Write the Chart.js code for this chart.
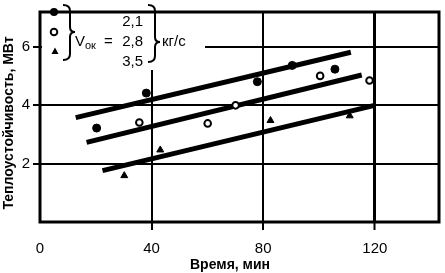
<!DOCTYPE html>
<html>
<head>
<meta charset="utf-8">
<script src="https://cdn.jsdelivr.net/npm/chart.js@4/dist/chart.umd.min.js"></script>
<style>
  html, body { margin: 0; padding: 0; background: #fff; }
</style>
</head>
<body>
<canvas id="chart" width="445" height="273"></canvas>
<script>
// Flow rates shown in the legend, kg/s
var flowRates = ['2,1', '2,8', '3,5'];

// Measured points: time (min) and heat resistance (MW)
var timeA = [20.3, 38.1, 77.9, 90.4, 105.7];
var valA  = [3.22, 4.42, 4.81, 5.37, 5.24];
var timeB = [35.6, 60.1, 70.1, 100.4, 118.1];
var valB  = [3.41, 3.38, 4.00, 5.01, 4.85];
var timeC = [30.2, 43.1, 82.6, 111.0];
var valC  = [1.59, 2.47, 3.48, 3.64];

// Trend lines, start and end
var trendTimeA = [12.8, 111.4];
var trendValA  = [3.58, 5.82];
var trendTimeB = [16.7, 115.3];
var trendValB  = [2.73, 5.04];
var trendTimeC = [22.4, 119.9];
var trendValC  = [1.76, 4.00];

// Axis ticks and titles
var xTicks = [0, 40, 80, 120];
var yTicks = [2, 4, 6];
var xTitle = 'Время, мин';
var yTitle = 'Теплоустойчивость, МВт';

function pts(xs, ys) {
    return xs.map(function (x, i) { return { x: x, y: ys[i] }; });
}

function trend(xs, ys) {
    return {
        type: 'line',
        data: pts(xs, ys),
        borderColor: '#000',
        borderWidth: 5,
        pointRadius: 0,
        showLine: true,
        fill: false
    };
}

var FONT = 'Liberation Sans, Arial, sans-serif';

// white box for the legend, frame round the plot, legend and axis titles
var legendPlugin = {
    id: 'legendBox',
    beforeDatasetsDraw: function (chart) {
        var ctx = chart.ctx;
        ctx.save();
        ctx.fillStyle = '#fff';
        ctx.fillRect(42, 3, 163, 67);
        ctx.restore();
    },
    afterDatasetsDraw: function (chart) {
        var ctx = chart.ctx;
        var a = chart.chartArea;
        ctx.save();
        ctx.strokeStyle = '#000';
        ctx.fillStyle = '#000';
        ctx.lineWidth = 3;
        ctx.strokeRect(a.left, a.top, a.right - a.left, a.bottom - a.top);

        // markers
        ctx.beginPath();
        ctx.arc(54, 12, 4, 0, Math.PI * 2);
        ctx.fill();
        ctx.lineWidth = 2;
        ctx.beginPath();
        ctx.arc(54, 32, 3.3, 0, Math.PI * 2);
        ctx.fillStyle = '#fff';
        ctx.fill();
        ctx.stroke();
        ctx.fillStyle = '#000';
        ctx.beginPath();
        ctx.moveTo(55, 47.5);
        ctx.lineTo(58.5, 54);
        ctx.lineTo(51.5, 54);
        ctx.closePath();
        ctx.fill();

        // braces
        ctx.lineWidth = 2;
        ctx.beginPath();
        ctx.moveTo(63, 5);
        ctx.quadraticCurveTo(70, 5, 70, 11);
        ctx.lineTo(70, 27);
        ctx.quadraticCurveTo(70, 32, 75, 32);
        ctx.quadraticCurveTo(70, 32, 70, 37);
        ctx.lineTo(70, 54);
        ctx.quadraticCurveTo(70, 60, 63, 60);
        ctx.stroke();

        ctx.beginPath();
        ctx.moveTo(148, 5);
        ctx.quadraticCurveTo(155, 5, 155, 11);
        ctx.lineTo(155, 37);
        ctx.quadraticCurveTo(155, 42, 160, 42);
        ctx.quadraticCurveTo(155, 42, 155, 47);
        ctx.lineTo(155, 56);
        ctx.quadraticCurveTo(155, 62, 148, 62);
        ctx.stroke();

        // legend text
        ctx.textBaseline = 'middle';
        ctx.font = '15px ' + FONT;
        ctx.textAlign = 'right';
        ctx.fillText(flowRates[0], 143, 22);
        ctx.fillText(flowRates[1], 143, 42);
        ctx.fillText(flowRates[2], 143, 62);
        ctx.textAlign = 'left';
        ctx.fillText('V', 75, 42);
        ctx.fillText('=', 104, 42);
        ctx.fillText('кг/с', 162, 42);
        ctx.font = '11px ' + FONT;
        ctx.fillText('ок', 85, 46);

        // axis titles
        ctx.font = 'bold 14px ' + FONT;
        ctx.textAlign = 'center';
        ctx.fillText(xTitle, 230, 265);
        ctx.translate(9, 123);
        ctx.rotate(-Math.PI / 2);
        ctx.fillText(yTitle, 0, 0);
        ctx.restore();
    }
};

var ctx = document.getElementById('chart').getContext('2d');
var myChart = new Chart(ctx, {
    type: 'scatter',
    data: {
        datasets: [
            {
                label: flowRates[0],
                data: pts(timeA, valA),
                pointStyle: 'circle',
                pointRadius: 4,
                backgroundColor: '#000',
                borderColor: '#000',
                borderWidth: 1
            },
            {
                label: flowRates[1],
                data: pts(timeB, valB),
                pointStyle: 'circle',
                pointRadius: 3.3,
                backgroundColor: '#fff',
                borderColor: '#000',
                borderWidth: 2
            },
            {
                label: flowRates[2],
                data: pts(timeC, valC),
                pointStyle: 'triangle',
                pointRadius: 4,
                backgroundColor: '#000',
                borderColor: '#000',
                borderWidth: 1
            },
            trend(trendTimeA, trendValA),
            trend(trendTimeB, trendValB),
            trend(trendTimeC, trendValC)
        ]
    },
    options: {
        responsive: false,
        animation: false,
        devicePixelRatio: 1,
        layout: { padding: { top: 1, right: 2, left: 0, bottom: 0 } },
        plugins: {
            legend: { display: false },
            tooltip: { enabled: false }
        },
        scales: {
            x: {
                type: 'linear',
                min: 0,
                max: 143,
                afterBuildTicks: function (scale) {
                    scale.ticks = xTicks.map(function (v) { return { value: v }; });
                },
                afterFit: function (scale) { scale.height = 51; },
                border: { display: false },
                grid: {
                    color: '#000',
                    lineWidth: function (c) { return c.tick && c.tick.value === 120 ? 3 : 2; },
                    tickColor: function (c) { return c.tick && c.tick.value === 0 ? 'rgba(0,0,0,0)' : '#000'; },
                    tickLength: 8,
                    tickWidth: 2
                },
                ticks: {
                    color: '#000',
                    padding: 10,
                    maxRotation: 0,
                    font: { family: FONT, size: 15 }
                }
            },
            y: {
                type: 'linear',
                min: 0,
                max: 7.2,
                afterBuildTicks: function (scale) {
                    scale.ticks = yTicks.map(function (v) { return { value: v }; });
                },
                afterFit: function (scale) { scale.width = 40; },
                border: { display: false },
                grid: {
                    color: '#000',
                    lineWidth: 2,
                    tickLength: 7,
                    tickWidth: 2
                },
                ticks: {
                    color: '#000',
                    padding: 3,
                    font: { family: FONT, size: 15 }
                }
            }
        }
    },
    plugins: [legendPlugin]
});
</script>
</body>
</html>
